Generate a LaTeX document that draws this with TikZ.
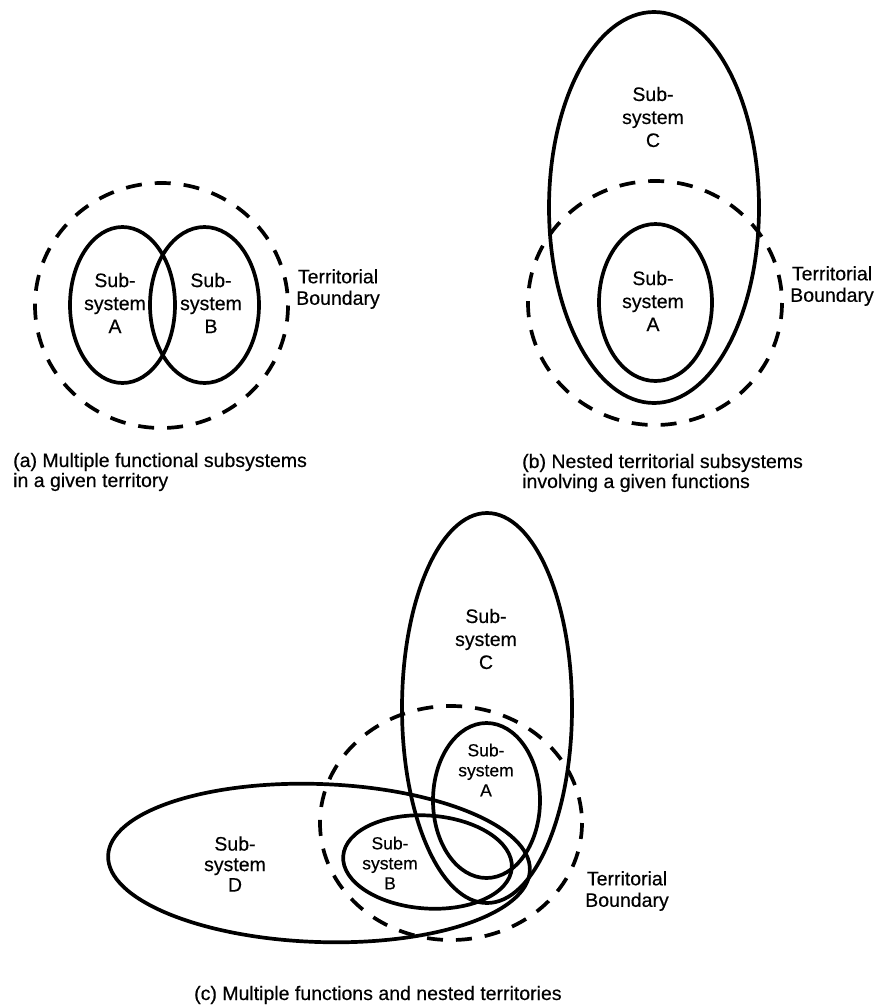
\documentclass[tikz,border=0pt]{standalone}
\usepackage{fontspec}
\setmainfont{Liberation Sans}[FakeBold=0.4]
\begin{document}
\begin{tikzpicture}[x=1pt,y=-1pt,
  outline/.style={line width=3.7pt},
  boundary/.style={line width=3.7pt, dash pattern=on 16pt off 13pt},
  lbl/.style={align=center, inner sep=0pt, font=\fontsize{19.5}{23}\selectfont},
  lblsmall/.style={align=center, inner sep=0pt, font=\fontsize{17.5}{20}\selectfont},
  terr/.style={align=center, inner sep=0pt, font=\fontsize{19.5}{21.5}\selectfont},
  captext/.style={anchor=base west, inner sep=0pt, font=\fontsize{19.5}{23}\selectfont}]
\useasboundingbox (0,0) rectangle (880,1006);
\fill[white] (0,0) rectangle (880,1006);

% ---------- (a) two functional subsystems inside one territory ----------
\draw[boundary] (161.5,305.5) ellipse [x radius=126.5, y radius=122.5];
\draw[outline] (122.5,305) ellipse [x radius=52.5, y radius=78];
\draw[outline] (204.5,305) ellipse [x radius=54.5, y radius=78];
\node[lbl] (aA) at (115,303) {Sub-\\system\\A};
\node[lbl] (aB) at (211,303) {Sub-\\system\\B};
\node[terr] (aT) at (338,289) {Territorial\\Boundary};
\node[captext] (capa1) at (13,467) {(a) Multiple functional subsystems};
\node[captext] (capa2) at (13,487) {in a given territory};

% ---------- (b) nested territorial subsystems ----------
\draw[outline] (654,207.5) ellipse [x radius=105, y radius=195.5];
\draw[outline] (655.5,302.5) ellipse [x radius=56.5, y radius=78.5];
\draw[boundary] (655,303) ellipse [x radius=127, y radius=122];
\node[lbl] (bC) at (653,117) {Sub-\\system\\C};
\node[lbl] (bA) at (653,301) {Sub-\\system\\A};
\node[terr] (bT) at (832,286) {Territorial\\Boundary};
\node[captext] (capb1) at (522,468) {(b) Nested territorial subsystems};
\node[captext] (capb2) at (522,488) {involving a given functions};

% ---------- (c) multiple functions and nested territories ----------
\draw[outline] (487,708) ellipse [x radius=85, y radius=195];
\draw[outline] (486.5,800.5) ellipse [x radius=53.5, y radius=77.5];
\draw[outline, rotate around={-4:(427.5,862)}] (427.5,862) ellipse [x radius=84.5, y radius=46.5];
\draw[outline, rotate around={-2:(319,863)}] (319,863) ellipse [x radius=211, y radius=79];
\draw[boundary] (451,823) ellipse [x radius=131, y radius=117];
\node[lbl] (cC) at (486,639) {Sub-\\system\\C};
\node[lblsmall] (cA) at (486,770) {Sub-\\system\\A};
\node[lblsmall] (cB) at (390,863) {Sub-\\system\\B};
\node[lbl, font=\fontsize{19.5}{20.5}\selectfont] (cD) at (235,864) {Sub-\\system\\D};
\node[terr] (cT) at (627,891) {Territorial\\Boundary};
\node[captext] (capc) at (194,1000) {(c) Multiple functions and nested territories};
\end{tikzpicture}
\end{document}
